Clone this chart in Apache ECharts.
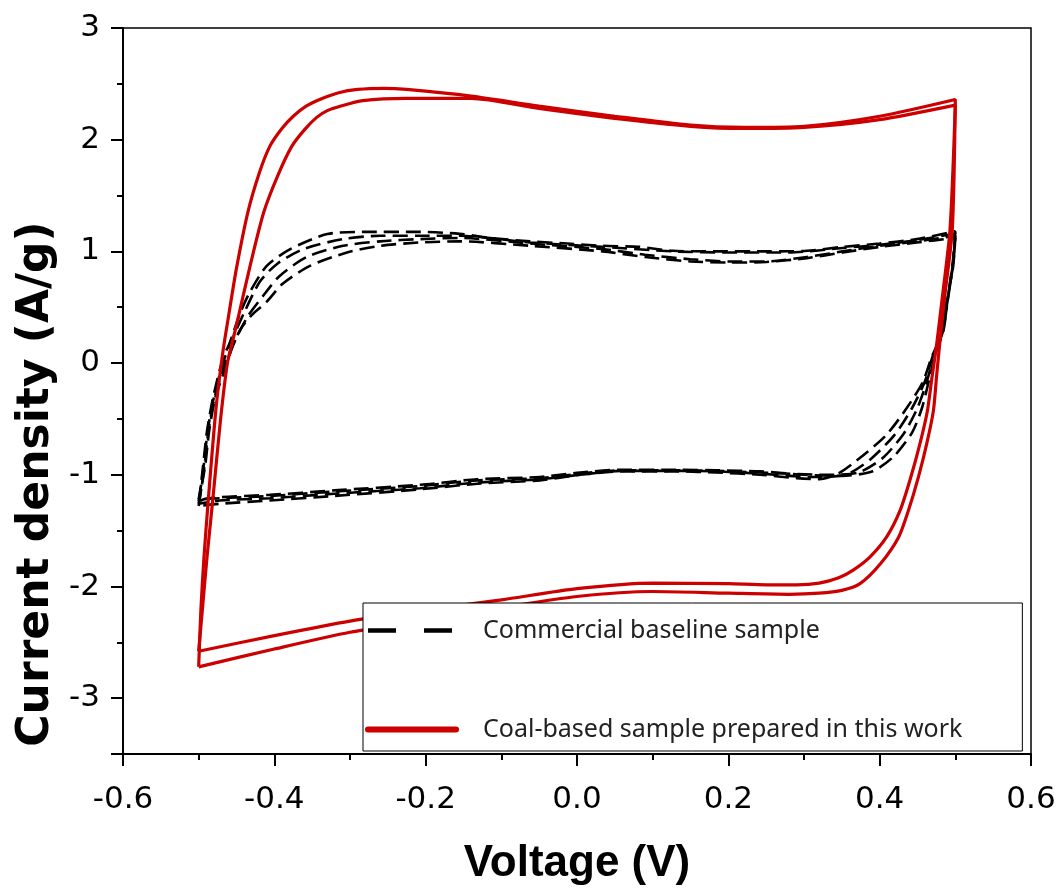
<!DOCTYPE html>
<html>
<head>
<meta charset="utf-8">
<script src="https://cdn.jsdelivr.net/npm/echarts@6/dist/echarts.min.js"></script>
<style>
  html, body { margin: 0; padding: 0; background: #fff; }
  #chart { width: 1063px; height: 891px; }
</style>
</head>
<body>
<div id="chart"></div>
<script>
// ---- data: CV loops, [voltage (V), current density (A/g)] ----
var baselineName = 'Commercial baseline sample';
var coalName = 'Coal-based sample prepared in this work';

var baselineCycle1 = [
  [-0.5,-1.24],[-0.498,-1.15],[-0.494,-0.91],[-0.489,-0.61],[-0.481,-0.31],[-0.468,0.04],[-0.459,0.18],
  [-0.445,0.45],[-0.432,0.64],[-0.41,0.87],[-0.379,1.02],[-0.33,1.155],[-0.278,1.175],[-0.211,1.175],
  [-0.155,1.157],[-0.115,1.12],[-0.062,1.09],[-0.013,1.07],[0.034,1.05],[0.083,1.04],[0.127,1.005],
  [0.18,1.0],[0.255,1.0],[0.304,1.005],[0.351,1.04],[0.4,1.07],[0.449,1.11],[0.5,1.18],
  [0.497,0.93],[0.49,0.58],[0.484,0.28],[0.474,0.09],[0.466,-0.13],[0.456,-0.4],[0.443,-0.62],
  [0.418,-0.84],[0.39,-0.97],[0.35,-1.01],[0.3,-1.0],[0.242,-0.97],[0.184,-0.96],[0.136,-0.955],
  [0.058,-0.955],[0.004,-0.98],[-0.049,-1.02],[-0.132,-1.04],[-0.207,-1.09],[-0.321,-1.14],
  [-0.406,-1.18],[-0.472,-1.2],[-0.493,-1.22],[-0.5,-1.24]
];
var baselineCycle2 = [
  [-0.5,-1.22],[-0.497,-1.1],[-0.493,-0.9],[-0.488,-0.6],[-0.48,-0.31],[-0.467,0.02],[-0.455,0.22],
  [-0.44,0.45],[-0.419,0.73],[-0.396,0.89],[-0.362,1.02],[-0.309,1.11],[-0.26,1.14],[-0.211,1.14],
  [-0.155,1.14],[-0.062,1.08],[0.034,1.04],[0.127,1.0],[0.2,0.99],[0.28,0.99],[0.351,1.03],
  [0.4,1.06],[0.449,1.1],[0.5,1.16],
  [0.497,0.9],[0.49,0.56],[0.483,0.27],[0.472,0.08],[0.463,-0.15],[0.45,-0.4],[0.432,-0.63],
  [0.404,-0.85],[0.372,-0.98],[0.33,-1.0],[0.242,-0.98],[0.184,-0.965],[0.136,-0.96],[0.058,-0.96],
  [0.004,-0.99],[-0.049,-1.03],[-0.132,-1.05],[-0.207,-1.1],[-0.321,-1.15],[-0.406,-1.19],
  [-0.472,-1.21],[-0.5,-1.22]
];
var baselineCycle3 = [
  [-0.5,-1.26],[-0.496,-1.1],[-0.492,-0.9],[-0.487,-0.6],[-0.479,-0.31],[-0.465,0.0],[-0.452,0.2],
  [-0.435,0.42],[-0.415,0.6],[-0.393,0.78],[-0.357,0.95],[-0.309,1.05],[-0.26,1.09],[-0.207,1.11],
  [-0.155,1.12],[-0.062,1.07],[0.034,1.02],[0.09,0.97],[0.15,0.93],[0.2,0.91],[0.25,0.91],
  [0.304,0.95],[0.351,1.0],[0.4,1.05],[0.449,1.09],[0.5,1.14],
  [0.497,0.88],[0.489,0.55],[0.482,0.26],[0.47,0.06],[0.46,-0.16],[0.443,-0.4],[0.42,-0.64],
  [0.388,-0.86],[0.355,-1.0],[0.31,-1.02],[0.242,-0.99],[0.184,-0.97],[0.136,-0.965],[0.058,-0.965],
  [0.004,-1.0],[-0.049,-1.04],[-0.132,-1.07],[-0.207,-1.12],[-0.321,-1.17],[-0.406,-1.21],
  [-0.472,-1.23],[-0.5,-1.26]
];
var baselineCycle4 = [
  [-0.5,-1.28],[-0.496,-1.1],[-0.491,-0.9],[-0.486,-0.6],[-0.478,-0.31],[-0.465,-0.05],[-0.455,0.15],
  [-0.445,0.3],[-0.43,0.43],[-0.41,0.55],[-0.389,0.71],[-0.353,0.87],[-0.304,0.99],[-0.26,1.05],
  [-0.207,1.08],[-0.155,1.09],[-0.062,1.05],[0.034,1.0],[0.09,0.95],[0.15,0.91],[0.2,0.9],
  [0.25,0.905],[0.304,0.94],[0.351,0.99],[0.4,1.04],[0.449,1.08],[0.5,1.12],
  [0.497,0.86],[0.488,0.53],[0.481,0.25],[0.468,0.04],[0.457,-0.17],[0.436,-0.4],[0.408,-0.65],
  [0.37,-0.87],[0.345,-0.99],[0.32,-1.04],[0.29,-1.03],[0.242,-1.0],[0.184,-0.98],[0.136,-0.97],
  [0.058,-0.97],[0.004,-1.0],[-0.049,-1.05],[-0.132,-1.08],[-0.207,-1.13],[-0.321,-1.19],
  [-0.406,-1.23],[-0.472,-1.26],[-0.5,-1.28]
];

var coalCycle1 = [
  [-0.5,-2.72],[-0.497,-2.2],[-0.493,-1.74],[-0.487,-1.2],[-0.477,-0.4],[-0.468,0.1],[-0.461,0.4],
  [-0.45,0.85],[-0.435,1.35],[-0.42,1.7],[-0.406,1.94],[-0.39,2.1],[-0.375,2.21],[-0.358,2.3],
  [-0.34,2.36],[-0.315,2.42],[-0.29,2.45],[-0.255,2.46],[-0.225,2.45],[-0.14,2.39],[-0.05,2.3],
  [0.05,2.21],[0.15,2.13],[0.22,2.11],[0.3,2.12],[0.4,2.21],[0.5,2.36],
  [0.496,1.2],[0.486,0.6],[0.479,0.15],[0.475,-0.134],[0.471,-0.428],[0.462,-0.728],[0.451,-1.025],
  [0.438,-1.319],[0.425,-1.559],[0.401,-1.797],[0.374,-1.975],[0.35,-2.035],[0.32,-2.06],
  [0.28,-2.07],[0.2,-2.06],[0.1,-2.045],[0.0,-2.09],[-0.1,-2.19],[-0.2,-2.3],[-0.3,-2.41],
  [-0.4,-2.56],[-0.5,-2.72]
];
var coalCycle2 = [
  [-0.5,-2.58],[-0.495,-2.2],[-0.489,-1.74],[-0.481,-1.2],[-0.471,-0.5],[-0.462,0.0],[-0.455,0.2],
  [-0.448,0.4],[-0.431,0.9],[-0.414,1.35],[-0.396,1.67],[-0.377,1.94],[-0.36,2.09],[-0.344,2.2],
  [-0.33,2.26],[-0.313,2.3],[-0.283,2.35],[-0.225,2.37],[-0.14,2.37],[-0.05,2.28],
  [0.05,2.19],[0.15,2.12],[0.22,2.1],[0.3,2.11],[0.4,2.18],[0.5,2.31],
  [0.493,1.2],[0.483,0.6],[0.475,0.15],[0.469,-0.134],[0.463,-0.431],[0.453,-0.728],[0.441,-1.025],
  [0.427,-1.319],[0.409,-1.559],[0.387,-1.737],[0.365,-1.853],[0.345,-1.925],[0.32,-1.97],
  [0.29,-1.985],[0.25,-1.985],[0.2,-1.975],[0.1,-1.97],[0.0,-2.02],[-0.1,-2.12],[-0.2,-2.21],
  [-0.3,-2.31],[-0.4,-2.44],[-0.5,-2.58]
];

var baselineCycles = [baselineCycle1, baselineCycle2, baselineCycle3, baselineCycle4];
var coalCycles = [coalCycle1, coalCycle2];

// ---- chart ----
var chart = echarts.init(document.getElementById('chart'));

var series = [];
baselineCycles.forEach(function (d) {
  series.push({
    name: baselineName,
    type: 'line',
    data: d,
    showSymbol: false,
    symbol: 'none',
    smooth: 0.25,
    lineStyle: { color: '#000', width: 2.6, type: [15, 7] },
    itemStyle: { color: '#000' }
  });
});
coalCycles.forEach(function (d) {
  series.push({
    name: coalName,
    type: 'line',
    data: d,
    showSymbol: false,
    symbol: 'none',
    smooth: 0.25,
    lineStyle: { color: '#cc0000', width: 3.2 },
    itemStyle: { color: '#cc0000' }
  });
});

var option = {
  animation: false,
  backgroundColor: '#fff',
  grid: {
    left: 123, right: 32, top: 28, bottom: 133,
    show: true, borderColor: '#000', borderWidth: 1.5
  },
  legend: {
    orient: 'vertical',
    left: 363,
    top: 603,
    padding: [15, 60, 9, 2],
    itemWidth: 88,
    itemHeight: 20,
    itemGap: 74,
    backgroundColor: '#fff',
    borderColor: '#000',
    borderWidth: 1,
    textStyle: {
      fontFamily: 'Noto Sans',
      fontSize: 25,
      color: '#222',
      padding: [0, 0, 0, 22]
    },
    data: [
      { name: baselineName, itemStyle: { opacity: 0 }, lineStyle: { color: '#000', width: 4.5, type: [28, 28] } },
      { name: coalName, itemStyle: { opacity: 0 }, lineStyle: { color: '#cc0000', width: 6, cap: 'round' } }
    ]
  },
  xAxis: {
    type: 'value',
    min: -0.6,
    max: 0.6,
    interval: 0.2,
    name: 'Voltage (V)',
    nameLocation: 'middle',
    nameGap: 88,
    nameTextStyle: { fontFamily: 'Liberation Sans', fontWeight: 'bold', fontSize: 44, color: '#000' },
    axisLine: { onZero: false, lineStyle: { color: '#000', width: 2 } },
    axisTick: { inside: false, length: 12, lineStyle: { width: 2, color: '#000' } },
    minorTick: { show: true, splitNumber: 2, length: 6, lineStyle: { width: 2, color: '#000' } },
    axisLabel: {
      margin: 30, fontFamily: 'DejaVu Sans', fontSize: 31, color: '#000',
      formatter: function (v) { return v.toFixed(1); }
    },
    splitLine: { show: false }
  },
  yAxis: {
    type: 'value',
    min: -3.5,
    max: 3,
    splitNumber: 7,
    name: 'Current density (A/g)',
    nameLocation: 'middle',
    nameGap: 56,
    nameTextStyle: {
      fontFamily: 'DejaVu Sans', fontWeight: 'bold', fontSize: 44, color: '#000',
      padding: [0, 186, 0, 0]
    },
    axisLine: { onZero: false, lineStyle: { color: '#000', width: 2 } },
    axisTick: { inside: false, length: 12, lineStyle: { width: 2, color: '#000' } },
    minorTick: { show: true, splitNumber: 2, length: 6, lineStyle: { width: 2, color: '#000' } },
    axisLabel: {
      margin: 23, fontFamily: 'DejaVu Sans', fontSize: 31, color: '#000',
      formatter: function (v) { return Number.isInteger(v) ? String(v) : ''; }
    },
    splitLine: { show: false }
  },
  series: series
};

chart.setOption(option);
</script>
</body>
</html>
